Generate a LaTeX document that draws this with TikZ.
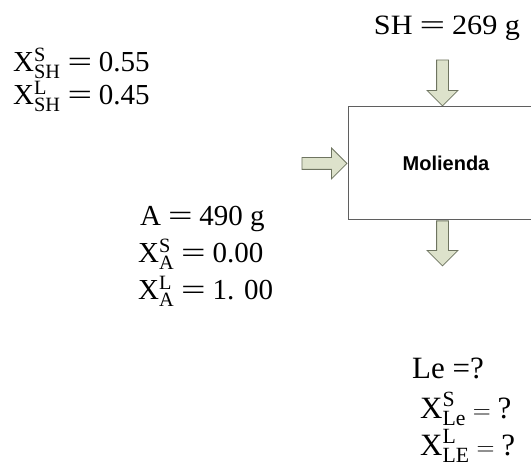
\documentclass[tikz,border=0pt]{standalone}
\usepackage{amsmath}
\usepackage{graphicx}
\usepackage{fontspec}
\setmainfont{Liberation Serif}
\newfontfamily\cajafont{Liberation Sans}
\newfontfamily\anchafont[FakeStretch=1.08]{Liberation Serif}
\newcommand{\igual}{\mathrel{\scalebox{1.5}[1]{=}}}
\usepackage{tikz}
\usetikzlibrary{shapes.arrows,positioning}
\definecolor{flechafill}{RGB}{221,226,203}
\definecolor{flechaline}{RGB}{110,116,96}
\definecolor{cajaline}{RGB}{95,95,95}

\begin{document}
\begin{tikzpicture}[x=1pt, y=1pt,
  dato/.style={anchor=base west, inner sep=0pt, font=\fontsize{29}{33}\selectfont},
  datog/.style={dato, font=\fontsize{31}{35}\selectfont},
  flecha/.style={single arrow, draw=flechaline, fill=flechafill, line width=0.8pt,
    text height=11pt, text depth=0pt, text width=0pt, single arrow head extend=9.5pt,
    single arrow tip angle=90, inner sep=0pt},
  caja/.style={draw=cajaline, line width=1pt, minimum width=196pt, minimum height=113pt,
    font=\cajafont\bfseries\fontsize{20}{22}\selectfont}]
\useasboundingbox (0,0) rectangle (531,466);
\clip (0,0) rectangle (531,466);

% proceso
\node[caja] (molienda) at (446,302.5) {Molienda};

% corrientes
\node[flecha, rotate=-90, minimum height=46pt, anchor=tip] (fsh)
  at ([xshift=95pt]molienda.north west) {};
\node[flecha, minimum height=45pt, anchor=tip] (fa) at (molienda.west) {};
\node[flecha, rotate=-90, minimum height=45pt, anchor=tail] (fle)
  at ([xshift=95pt]molienda.south west) {};

% solido humedo
\node[dato, anchor=base, font=\anchafont\fontsize{28}{32}\selectfont] (sh)
  at (447,431) {$\text{SH} \igual \text{269 g}$};
\node[dato] (xssh) at (13,394) {$\text{X}^{\text{S}}_{\text{SH}} \igual \text{0.55}$};
\node[dato] (xlsh) at (13,361) {$\text{X}^{\text{L}}_{\text{SH}} \igual \text{0.45}$};

% agua
\node[dato] (a) at (140,240) {$\text{A} \igual \text{490 g}$};
\node[dato] (xsa) at (138,203) {$\text{X}^{\text{S}}_{\text{A}} \igual \text{0.00}$};
\node[dato] (xla) at (138,166) {$\text{X}^{\text{L}}_{\text{A}} \igual \text{1. 00}$};

% lechada
\node[datog] (le) at (412,87) {Le =?};
\node[datog] (xsle) at (420,47) {$\text{X}^{\text{S}}_{\text{Le}} = \text{?}$};
\node[datog] (xlle) at (420,10) {$\text{X}^{\text{L}}_{\text{LE}} = \text{?}$};
\end{tikzpicture}
\end{document}
